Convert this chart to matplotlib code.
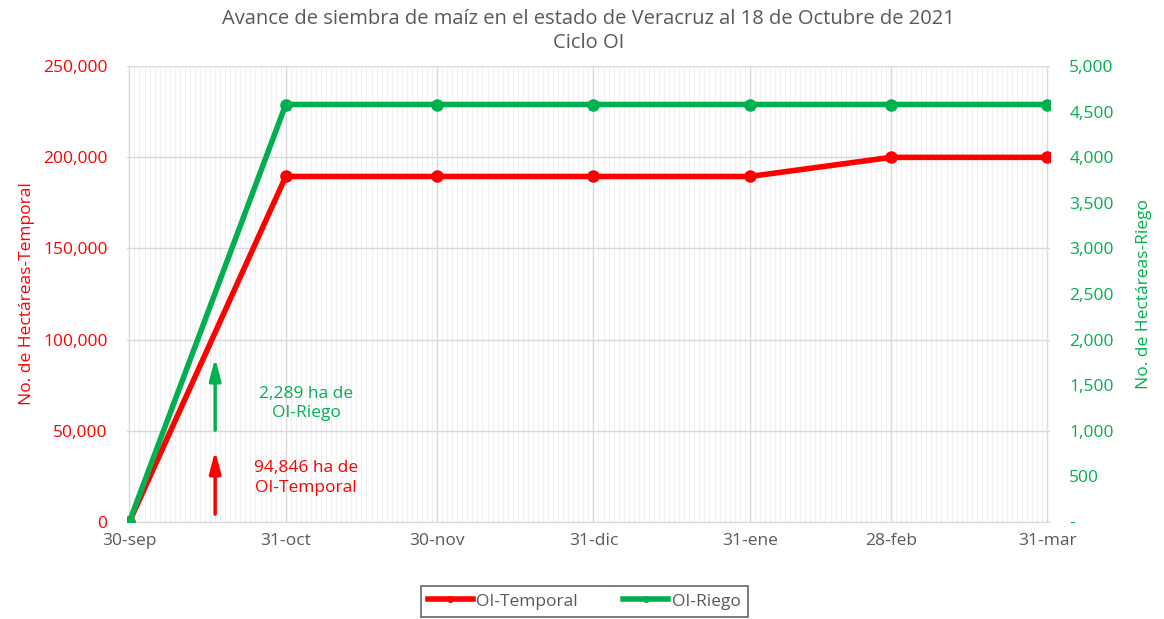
import matplotlib.pyplot as plt
import matplotlib.dates as mdates
import matplotlib.ticker as mticker
from datetime import date, timedelta

fechas = [date(2021, 9, 30), date(2021, 10, 31), date(2021, 11, 30), date(2021, 12, 31),
          date(2022, 1, 31), date(2022, 2, 28), date(2022, 3, 31)]
etiquetas = ["30-sep", "31-oct", "30-nov", "31-dic", "31-ene", "28-feb", "31-mar"]
temporal = [0, 189500, 189500, 189500, 189500, 200000, 200000]
riego = [0, 4580, 4580, 4580, 4580, 4580, 4580]

# flechas de avance al 18 de octubre
fecha_flecha = date(2021, 10, 17)
flecha_temporal = (2700, 40500)
flecha_riego = (48800, 91500)

ROJO = "#FF0000"
VERDE = "#00B050"
GRIS = "#595959"

plt.rcParams["font.family"] = ["Open Sans", "DejaVu Sans"]

fig = plt.figure(figsize=(11.64, 6.19), dpi=100)
ax = fig.add_axes([0.109, 0.157, 0.793, 0.736])
ax2 = ax.twinx()

fx = mdates.date2num(fechas)
ax.plot(fx, temporal, color=ROJO, lw=4, marker="o", ms=8, zorder=3, label="OI-Temporal")
ax2.plot(fx, riego, color=VERDE, lw=4, marker="o", ms=8, zorder=3, label="OI-Riego")

ax.set_xlim(fx[0] - 0.5, fx[-1] + 0.5)
ax.set_ylim(0, 250000)
ax2.set_ylim(0, 5000)

ax.set_xticks(fx)
ax.set_xticklabels(etiquetas, color=GRIS, fontsize=12.5)
ax.xaxis.set_minor_locator(mdates.DayLocator())
ax.yaxis.set_major_locator(mticker.MultipleLocator(50000))
ax.yaxis.set_major_formatter(mticker.FuncFormatter(lambda v, p: f"{v:,.0f}"))
ax2.yaxis.set_major_locator(mticker.MultipleLocator(500))
ax2.yaxis.set_major_formatter(mticker.FuncFormatter(lambda v, p: "-" if v == 0 else f"{v:,.0f}"))

ax.tick_params(axis="y", colors=ROJO, labelsize=12.5, length=0, pad=14)
ax2.tick_params(axis="y", colors=VERDE, labelsize=12.5, length=0, pad=14)
ax.tick_params(axis="x", which="both", length=0, pad=8)

ax.grid(True, which="major", color="#d9d9d9", lw=1)
ax.grid(True, which="minor", axis="x", color="#f0f0f0", lw=0.8)
ax.set_axisbelow(True)
for a in (ax, ax2):
    for s in a.spines.values():
        s.set_visible(False)
ax.spines["bottom"].set_visible(True)
ax.spines["bottom"].set_color("#d9d9d9")

ax.set_ylabel("No. de Hectáreas-Temporal", color=ROJO, fontsize=12.5, labelpad=6)
ax2.set_ylabel("No. de Hectáreas-Riego", color=VERDE, fontsize=12.5, labelpad=16)
ax.set_title("Avance de siembra de maíz en el estado de Veracruz al 18 de Octubre de 2021\nCiclo OI",
             color=GRIS, fontsize=14.5, pad=13, linespacing=1.3)

xa = mdates.date2num(fecha_flecha)
estilo = "-|>,head_width=0.17,head_length=0.65"
ax.annotate("", xy=(xa, flecha_temporal[1]), xytext=(xa, flecha_temporal[0]),
            arrowprops=dict(arrowstyle=estilo, color=ROJO, lw=2.5, mutation_scale=20))
ax.annotate("", xy=(xa, flecha_riego[1]), xytext=(xa, flecha_riego[0]),
            arrowprops=dict(arrowstyle=estilo, color=VERDE, lw=2.5, mutation_scale=20))
xt = mdates.date2num(fecha_flecha + timedelta(days=18))
ax.text(xt, 24000, "94,846 ha de\nOI-Temporal", color=ROJO, fontsize=12.5, ha="center", va="center",
        linespacing=1.3)
ax.text(xt, 65000, "2,289 ha de\nOI-Riego", color=VERDE, fontsize=12.5, ha="center", va="center",
        linespacing=1.3)

h1, l1 = ax.get_legend_handles_labels()
h2, l2 = ax2.get_legend_handles_labels()
leg = fig.legend(h1 + h2, l1 + l2, loc="lower center", bbox_to_anchor=(0.502, -0.01), ncol=2,
                 fontsize=12.5, frameon=True, fancybox=False, edgecolor="#404040",
                 handlelength=2.6, handletextpad=0.2, markerscale=0.5, columnspacing=2.6,
                 borderpad=0.4)
leg.get_frame().set_linewidth(1.2)
for t in leg.get_texts():
    t.set_color(GRIS)

fig.savefig("out.png", dpi=100)
